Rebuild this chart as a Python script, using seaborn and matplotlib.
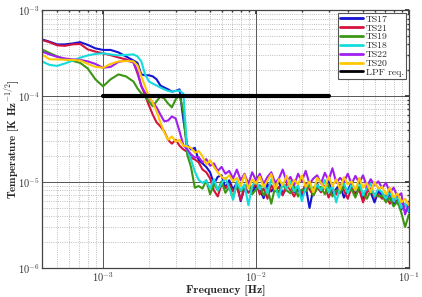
import pandas as pd
import matplotlib
matplotlib.use('Agg')
import matplotlib.pyplot as plt
import numpy as np
import seaborn as sns

# frequency grid [Hz]
freq = [3.98e-4, 4.47e-4, 5.01e-4, 5.62e-4, 6.31e-4, 7.08e-4, 7.94e-4, 8.91e-4,
        1.0e-3, 1.12e-3, 1.26e-3, 1.41e-3, 1.58e-3,
        1.679e-3, 1.778e-3, 1.884e-3, 1.995e-3, 2.113e-3, 2.239e-3, 2.371e-3, 2.512e-3,
        2.661e-3, 2.818e-3, 2.985e-3, 3.162e-3, 3.350e-3, 3.548e-3, 3.758e-3, 3.981e-3,
        4.217e-3, 4.467e-3, 4.732e-3, 5.012e-3, 5.309e-3, 5.623e-3, 5.957e-3, 6.310e-3,
        6.683e-3, 7.079e-3, 7.499e-3, 7.943e-3, 8.414e-3, 8.913e-3, 9.441e-3, 1.0e-2,
        1.059e-2, 1.122e-2, 1.189e-2, 1.259e-2, 1.334e-2, 1.413e-2, 1.496e-2, 1.585e-2,
        1.679e-2, 1.778e-2, 1.884e-2, 1.995e-2, 2.113e-2, 2.239e-2, 2.371e-2, 2.512e-2,
        2.661e-2, 2.818e-2, 2.985e-2, 3.162e-2, 3.350e-2, 3.548e-2, 3.758e-2, 3.981e-2,
        4.217e-2, 4.467e-2, 4.732e-2, 5.012e-2, 5.309e-2, 5.623e-2, 5.957e-2, 6.310e-2,
        6.683e-2, 7.079e-2, 7.499e-2, 7.943e-2, 8.414e-2, 8.913e-2, 9.441e-2, 1.0e-1]

# temperature noise, in units of 1e-6 K Hz^-1/2
ts17 = [458, 430, 400, 400, 410, 425, 395, 360, 345, 345, 323, 290, 260, 244, 179, 175,
        175, 170, 157, 133, 126, 120, 113, 115, 120, 53.5, 27, 24, 25,
        18, 16.5, 15, 13, 9.5, 11.5, 12, 8.5, 10.5, 8.2, 9.8, 6.0, 8.5, 10, 7.5, 9,
        8.2, 6.5, 9.5, 7.8, 8.8, 10.2, 7.2, 8.6, 9.4, 7.6, 8.2, 6.8, 9.0, 5.0, 8.4, 9.6,
        7.8, 8.8, 10.5, 7.2, 8.4, 9.2, 6.6, 8.0, 9.8, 7.4, 8.5, 6.2, 8.8, 7.6, 5.8, 7.8,
        7.0, 6.2, 7.4, 5.4, 6.2, 4.8, 5.6, 4.5]
ts21 = [452, 423, 390, 385, 400, 405, 350, 330, 315, 300, 282, 268, 247, 184, 133, 102,
        78, 61, 49.5, 44.5, 39, 31, 28, 31, 26.5, 24, 22.5, 19.3, 18.3,
        17, 14, 13, 11, 8, 6.8, 9.5, 8.5, 9.5, 7.8, 8.8, 6.2, 9.0, 7.5, 8.4, 9.8,
        7.2, 8.5, 6.4, 9.2, 7.8, 8.8, 7.0, 9.5, 8.0, 6.8, 8.6, 7.4, 9.6, 8.2, 7.0, 8.8,
        7.6, 9.0, 6.6, 8.4, 7.2, 9.4, 8.0, 6.4, 8.6, 7.0, 8.2, 5.8, 7.6, 8.4, 6.6, 7.2,
        6.4, 7.2, 5.6, 6.6, 5.6, 6.0, 4.6, 4.8]
ts19 = [350, 318, 290, 268, 258, 244, 210, 157, 130, 157, 179, 170, 148, 123, 108, 99,
        87, 76, 87, 99, 94, 82, 74, 91.6, 104, 66, 21, 15, 8.6,
        9.0, 8.4, 10.5, 7.2, 9.5, 8.0, 10.2, 7.5, 8.8, 6.5, 9.4, 7.8, 8.6, 10, 7.2, 8.2,
        9.2, 7.0, 8.4, 5.6, 8.8, 7.6, 9.4, 8.0, 7.4, 9.0, 6.8, 8.2, 7.8, 9.6, 7.0, 8.4,
        8.8, 7.2, 9.2, 6.8, 8.0, 7.4, 9.0, 7.6, 8.2, 6.6, 8.8, 7.4, 6.4, 8.0, 7.2, 6.8,
        7.0, 5.8, 6.6, 5.2, 6.0, 4.4, 3.0, 4.2]
ts18 = [254, 231, 225, 240, 258, 280, 298, 310, 315, 306, 298, 302, 306, 290, 254, 179,
        148, 140, 133, 126, 120, 115, 113, 115, 116, 107, 24, 18.3, 13.3,
        10.6, 9.8, 10.4, 8.4, 10.8, 8.0, 9.6, 11.2, 8.6, 6.2, 10.2, 8.0, 9.4, 5.4, 9.0, 10.4,
        8.2, 9.6, 7.4, 10.8, 8.8, 6.6, 9.8, 8.4, 10.2, 7.8, 9.2, 6.0, 8.6, 10.0, 7.8, 9.4,
        8.0, 10.6, 7.6, 9.0, 5.8, 8.8, 9.8, 7.4, 9.4, 8.0, 10.2, 7.0, 8.6, 9.6, 6.8, 8.4,
        7.6, 6.4, 7.8, 6.0, 6.8, 5.0, 5.6, 4.6]
ts22 = [330, 306, 287, 275, 268, 264, 254, 237, 214, 219, 250, 260, 247, 194, 130, 110,
        97, 84, 74, 61, 51, 52, 58, 55, 39, 27, 24, 21, 19.3,
        19.5, 17, 18.5, 15.5, 16.5, 13.5, 15, 12.5, 13.5, 11, 14, 10.5, 12.5, 9.5, 13, 10.5,
        12.5, 9.5, 11.5, 13, 9.8, 11, 14, 10, 11.5, 9.2, 12.5, 10.2, 13.5, 9.5, 11, 12,
        9.6, 12.8, 10.5, 14.5, 9.8, 11.2, 10, 12.5, 9.5, 11.8, 9.8, 12, 8.8, 10.8, 9.2, 10.2,
        8.5, 9.8, 7.6, 8.6, 6.8, 7.4, 4.2, 5.6]
ts20 = [306, 268, 268, 265, 264, 260, 237, 219, 214, 237, 254, 256, 254, 228, 170, 130,
        99, 84, 66, 49.5, 38, 31, 34, 29.5, 31, 26.5, 26, 25, 22,
        23, 20, 16, 18, 15, 13, 11.5, 10.8, 12, 10.2, 11.2, 9.0, 12.2, 8.4, 10.8, 9.6,
        11.6, 8.8, 10.4, 12.4, 8.2, 10.8, 9.2, 11.8, 8.6, 10.6, 9.4, 12, 8.8, 10.2, 7.6, 11.2,
        9.8, 8.4, 11.6, 9.0, 10.8, 8.2, 11.4, 9.4, 10.2, 8.0, 11.2, 8.6, 9.8, 7.6, 10.0, 8.4,
        8.8, 7.2, 8.6, 6.6, 7.4, 5.8, 6.4, 5.4]

# LPF requirement
lpf_freq = [1e-3, 3e-2]
lpf_val = [1e-4, 1e-4]

names = ['TS17', 'TS21', 'TS19', 'TS18', 'TS22', 'TS20']
series = [ts17, ts21, ts19, ts18, ts22, ts20]
colors = ['#1414d2', '#d4143c', '#3c9614', '#14dcdc', '#a01ef0', '#ffc800']

sns.set_theme(style='white')
plt.rcParams['font.family'] = ['cmr10', 'DejaVu Serif']
plt.rcParams['mathtext.fontset'] = 'cm'
plt.rcParams['axes.unicode_minus'] = False
plt.rcParams['axes.formatter.use_mathtext'] = True

fig = plt.figure(figsize=(4.22, 2.97), dpi=100)
ax = fig.add_axes([0.100, 0.0976, 0.869, 0.868])

for name, vals, col in zip(names, series, colors):
    df = pd.DataFrame({'f': freq, 'T': np.array(vals) * 1e-6})
    sns.lineplot(data=df, x='f', y='T', ax=ax, color=col, lw=1.5,
                 label=name, sort=False, estimator=None)

sns.lineplot(x=lpf_freq, y=lpf_val, ax=ax, color='black', lw=3.0,
             label='LPF req.', estimator=None)

ax.set_xscale('log')
ax.set_yscale('log')
ax.set_xlim(4e-4, 1e-1)
ax.set_ylim(1e-6, 1e-3)

ax.grid(which='major', color='#555555', lw=0.7, ls='-')
ax.grid(which='minor', color='#aaaaaa', lw=0.6, ls=':')
ax.tick_params(which='both', direction='in', top=True, right=True,
               labelsize=7.5, pad=1.5, colors='#333333')
ax.tick_params(which='major', length=3)
ax.tick_params(which='minor', length=1.5)
for s in ax.spines.values():
    s.set_color('#444444')
    s.set_linewidth(0.9)

ax.set_xlabel('Frequency [Hz]', fontfamily='cmb10', fontsize=8.5)
ax.set_ylabel(r'Temperature [K Hz$^{-1/2}$]', fontfamily='cmb10', fontsize=8,
              va='top')
ax.xaxis.set_label_coords(0.5, -0.064)
ax.yaxis.set_label_coords(-0.107, 0.5)

leg = ax.legend(loc='upper right', fontsize=7, labelspacing=0.0, borderpad=0.2,
                handlelength=2.4, handletextpad=0.3, borderaxespad=0.3,
                fancybox=False, framealpha=1)
leg.get_frame().set_edgecolor('#555555')
leg.get_frame().set_linewidth(0.8)
for line in leg.get_lines():
    line.set_linewidth(2.0)

fig.savefig('out.png', dpi=100)
